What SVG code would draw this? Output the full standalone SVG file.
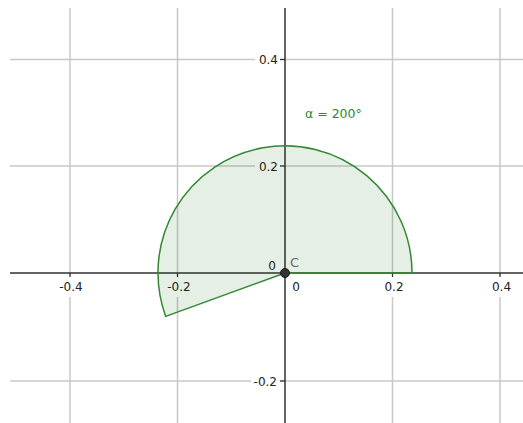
<svg xmlns="http://www.w3.org/2000/svg" width="523" height="423" viewBox="0 0 523 423">
  <style>
    .grid { stroke: #c8c8c8; stroke-width: 1.5; fill: none; }
    .axis { stroke: #303030; stroke-width: 1.5; fill: none; }
    .tick { stroke: #303030; stroke-width: 1.2; }
    .lbl { font-family: "DejaVu Sans", "Liberation Sans", sans-serif; font-size: 12px; fill: #222; }
    .xl { text-anchor: middle; }
    .yl { text-anchor: end; }
    .bg { fill: #ffffff; stroke: none; }
  </style>
  <rect x="0" y="0" width="523" height="423" fill="#ffffff"/>
  <g id="grid">
    <line class="grid" x1="70" y1="8" x2="70" y2="423"/>
    <line class="grid" x1="177.5" y1="8" x2="177.5" y2="423"/>
    <line class="grid" x1="392.5" y1="8" x2="392.5" y2="423"/>
    <line class="grid" x1="500" y1="8" x2="500" y2="423"/>
    <line class="grid" x1="10" y1="59.5" x2="523" y2="59.5"/>
    <line class="grid" x1="10" y1="166" x2="523" y2="166"/>
    <line class="grid" x1="10" y1="381" x2="523" y2="381"/>
  </g>
  <g id="label-backgrounds">
    <rect class="bg" x="56" y="276" width="29" height="21"/>
    <rect class="bg" x="163" y="276" width="30" height="21"/>
    <rect class="bg" x="379" y="276" width="27" height="21"/>
    <rect class="bg" x="486" y="276" width="28" height="21"/>
    <rect class="bg" x="255" y="51" width="25" height="17"/>
    <rect class="bg" x="255" y="158" width="25" height="17"/>
    <rect class="bg" x="251" y="373" width="29" height="17"/>
  </g>
  <g id="axes">
    <line class="axis" x1="10" y1="273" x2="523" y2="273"/>
    <line class="axis" x1="285" y1="8" x2="285" y2="423"/>
    <line class="tick" x1="70" y1="273" x2="70" y2="277"/>
    <line class="tick" x1="177.5" y1="273" x2="177.5" y2="277"/>
    <line class="tick" x1="392.5" y1="273" x2="392.5" y2="277"/>
    <line class="tick" x1="500" y1="273" x2="500" y2="277"/>
    <line class="tick" x1="280" y1="59.5" x2="285" y2="59.5"/>
    <line class="tick" x1="280" y1="166" x2="285" y2="166"/>
    <line class="tick" x1="280" y1="381" x2="285" y2="381"/>
  </g>
  <g id="axis-labels">
    <text class="lbl xl" x="71" y="291">-0.4</text>
    <text class="lbl xl" x="179" y="291">-0.2</text>
    <text class="lbl xl" x="296" y="291">0</text>
    <text class="lbl xl" x="394" y="291">0.2</text>
    <text class="lbl xl" x="501.5" y="291">0.4</text>
    <text class="lbl yl" x="278" y="64">0.4</text>
    <text class="lbl yl" x="278" y="170.5">0.2</text>
    <text class="lbl yl" x="276" y="270">0</text>
    <text class="lbl yl" x="277" y="386">-0.2</text>
  </g>
  <g id="angle-alpha">
    <path d="M 285 273 L 412 273 A 127 127 0 1 0 165.7 316.4 Z" fill="#006400" fill-opacity="0.1" stroke="#338833" stroke-width="1.5" stroke-linejoin="round"/>
    <text x="305" y="118" font-family="DejaVu Sans, Liberation Sans, sans-serif" font-size="12.5" fill="#2f862f">α = 200°</text>
  </g>
  <g id="point-C">
    <circle cx="285" cy="273" r="4.5" fill="#333333" stroke="#1a1a1a" stroke-width="1"/>
    <text x="290" y="266.5" font-family="DejaVu Sans, Liberation Sans, sans-serif" font-size="13" fill="#666666">C</text>
  </g>
</svg>
